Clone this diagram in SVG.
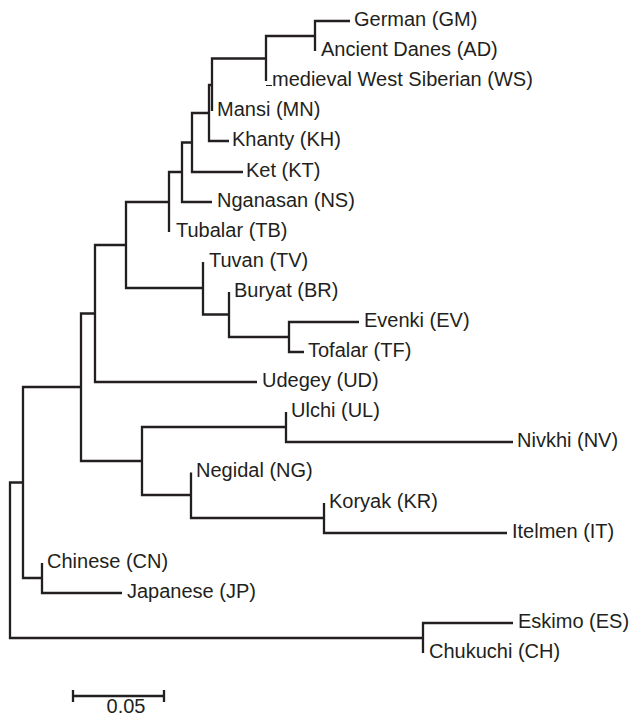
<svg xmlns="http://www.w3.org/2000/svg" width="635" height="719" viewBox="0 0 635 719">
<style>
.e{fill:none;stroke:#231f20;stroke-width:2.3;stroke-linejoin:miter}
.t{font-family:"Liberation Sans",Arial,sans-serif;font-size:20px;fill:#231f20}
</style>
<rect width="635" height="719" fill="#fff"/>
<g id="connectors">
<path class="e" d="M23,482.5 H10 V638 H423"/>
<path class="e" d="M81,387 H23 V578 H42"/>
<path class="e" d="M42,563 V593 H122"/>
<path class="e" d="M95,313.5 H81 V461 H142"/>
<path class="e" d="M126,245 H95 V382 H257"/>
<path class="e" d="M169,202 H126 V288 H203"/>
<path class="e" d="M182,172 H169 V232"/>
<path class="e" d="M192,142.5 H182 V202 H212"/>
<path class="e" d="M209,113 H192 V172 H243"/>
<path class="e" d="M212,85 H209 V141 H229"/>
<path class="e" d="M266,58.5 H212 V111"/>
<path class="e" d="M315,36 H266 V81"/>
<path d="M266,85.5 H272" stroke="#231f20" stroke-width="1"/>
<path class="e" d="M350,21 H315 V51"/>
<path class="e" d="M203,262 V314.5 H229"/>
<path class="e" d="M229,292 V337 H289"/>
<path class="e" d="M359,322 H289 V352 H304"/>
<path class="e" d="M286,427 H142 V495 H191"/>
<path class="e" d="M286,412 V442 H513"/>
<path class="e" d="M191,472.5 V518 H324"/>
<path class="e" d="M324,503 V533 H507"/>
<path class="e" d="M513,623 H423 V653"/>
</g>
<g id="GM"><text class="t" x="354" y="26">German (GM)</text></g>
<g id="AD"><text class="t" x="321" y="56">Ancient Danes (AD)</text></g>
<g id="WS"><text class="t" x="272" y="86">medieval West Siberian (WS)</text></g>
<g id="MN"><text class="t" x="217" y="116">Mansi (MN)</text></g>
<g id="KH"><text class="t" x="232" y="146">Khanty (KH)</text></g>
<g id="KT"><text class="t" x="246" y="177">Ket (KT)</text></g>
<g id="NS"><text class="t" x="217" y="207">Nganasan (NS)</text></g>
<g id="TB"><text class="t" x="176" y="237">Tubalar (TB)</text></g>
<g id="TV"><text class="t" x="209" y="267">Tuvan (TV)</text></g>
<g id="BR"><text class="t" x="234" y="297">Buryat (BR)</text></g>
<g id="EV"><text class="t" x="364" y="327">Evenki (EV)</text></g>
<g id="TF"><text class="t" x="308" y="357">Tofalar (TF)</text></g>
<g id="UD"><text class="t" x="262" y="387">Udegey (UD)</text></g>
<g id="UL"><text class="t" x="291" y="417">Ulchi (UL)</text></g>
<g id="NV"><text class="t" x="517" y="447">Nivkhi (NV)</text></g>
<g id="NG"><text class="t" x="196" y="477">Negidal (NG)</text></g>
<g id="KR"><text class="t" x="329" y="508">Koryak (KR)</text></g>
<g id="IT"><text class="t" x="512" y="538">Itelmen (IT)</text></g>
<g id="CN"><text class="t" x="47" y="568">Chinese (CN)</text></g>
<g id="JP"><text class="t" x="127" y="598">Japanese (JP)</text></g>
<g id="ES"><text class="t" x="518" y="628">Eskimo (ES)</text></g>
<g id="CH"><text class="t" x="429" y="658">Chukuchi (CH)</text></g>
<g id="scale">
<path class="e" d="M73,696 H164 M73,690 V702 M164,690 V702"/>
<text class="t" x="126" y="713" text-anchor="middle">0.05</text>
</g>
</svg>
